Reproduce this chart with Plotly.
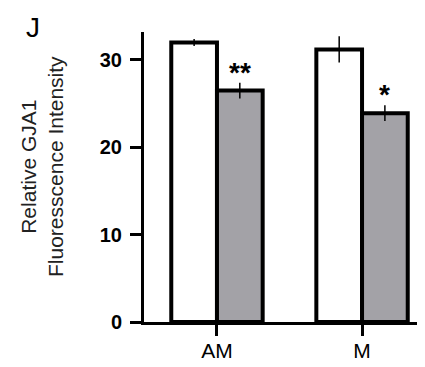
import plotly.graph_objects as go

categories = ["AM", "M"]
control_vals = [32.0, 31.2]
control_err = [0.4, 1.5]
treated_vals = [26.5, 23.9]
treated_err = [0.9, 0.9]
sig_labels = ["**", "*"]
y_ticks = [0, 10, 20, 30]

BARGAP = 0.37
FONT = "Liberation Sans, Arial, sans-serif"

# page body has an 8px margin, so the figure starts at (8, 8)
PAD = 8
W, H = 425 - PAD, 367 - PAD
L, R, T, B = 144 - PAD, 0, 32 - PAD, 367 - 322
pw, ph = W - L - R, H - T - B

fig = go.Figure()
fig.add_bar(
    x=categories, y=control_vals,
    marker=dict(color="white", line=dict(color="black", width=4)),
    error_y=dict(type="data", array=control_err, color="black", thickness=1.5, width=0),
    showlegend=False,
)
fig.add_bar(
    x=categories, y=treated_vals,
    marker=dict(color="#a3a2a7", line=dict(color="black", width=4)),
    error_y=dict(type="data", array=treated_err, color="black", thickness=1.5, width=0),
    showlegend=False,
)

off = (1 - BARGAP) / 4
for i, (v, e, s) in enumerate(zip(treated_vals, treated_err, sig_labels)):
    fig.add_annotation(
        x=i + off, y=v + e, xref="x", yref="y", text=s, showarrow=False,
        xanchor="center", yanchor="bottom", yshift=-7,
        font=dict(family=FONT, size=28, color="black", weight="bold"),
    )


def px(xp, yp):
    return (xp - PAD - L) / pw, 1 - (yp - PAD - T) / ph


jx, jy = px(33, 27)
fig.add_annotation(
    x=jx, y=jy, xref="paper", yref="paper", text="J", showarrow=False,
    xanchor="center", yanchor="middle",
    font=dict(family=FONT, size=28, color="black"),
)
tx, ty = px(42, 167)
fig.add_annotation(
    x=tx, y=ty, xref="paper", yref="paper",
    text="Relative GJA1<br>Fluoresscence Intensity", showarrow=False,
    xanchor="center", yanchor="middle",
    textangle=-90, font=dict(family=FONT, size=21, color="#222"),
)

fig.update_layout(
    width=W, height=H,
    margin=dict(l=L, r=R, t=T, b=B),
    barmode="group", bargap=BARGAP, bargroupgap=0,
    plot_bgcolor="white", paper_bgcolor="white",
    font=dict(family=FONT, color="black"),
)
fig.update_xaxes(
    range=[-0.503, 1.434], showgrid=False, zeroline=False,
    showline=True, linecolor="black", linewidth=3,
    ticks="outside", ticklen=11, tickwidth=3, tickcolor="black",
    ticklabelstandoff=-3,
    tickfont=dict(family=FONT, size=21, color="black"),
)
fig.update_yaxes(
    range=[0, 33.2], showgrid=False, zeroline=False,
    showline=True, linecolor="black", linewidth=3,
    ticks="outside", ticklen=11, tickwidth=3, tickcolor="black",
    tickvals=y_ticks, ticklabelstandoff=4,
    tickfont=dict(family=FONT, size=20, color="black", weight="bold"),
)

fig.write_html("out.html")
